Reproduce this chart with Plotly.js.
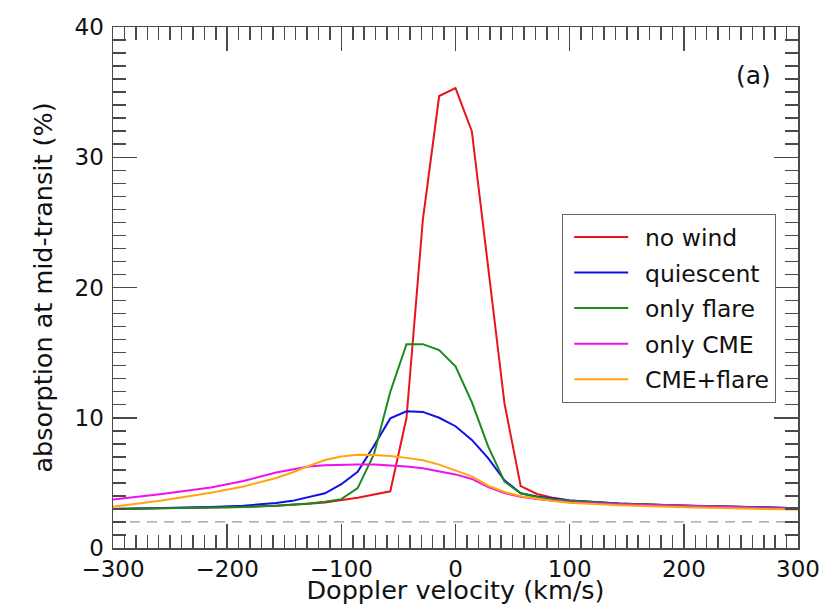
<!DOCTYPE html>
<html>
<head>
<meta charset="utf-8">
<script src="https://cdn.plot.ly/plotly-3.0.1.min.js"></script>
<style>html,body{margin:0;padding:0;background:#fff;}#chart{width:831px;height:605px;}</style>
</head>
<body>
<div id="chart"></div>
<script>
// Doppler velocity grid (km/s)
const velocity = [-300, -257.1, -214.3, -185.7, -157.1, -142.9, -128.6, -114.3, -100, -85.7, -71.4, -57.1, -42.9, -28.6, -14.3, 0, 14.3, 28.6, 42.9, 57.1, 71.4, 85.7, 100, 142.9, 200, 257.1, 300];

// absorption at mid-transit (%)
const noWind     = [3.0, 3.05, 3.1, 3.15, 3.25, 3.3, 3.4, 3.5, 3.65, 3.85, 4.1, 4.35, 10.0, 25.2, 34.7, 35.3, 32.0, 21.5, 11.1, 4.75, 4.15, 3.85, 3.65, 3.42, 3.25, 3.15, 3.05];
const quiescent  = [3.0, 3.05, 3.15, 3.25, 3.45, 3.62, 3.9, 4.2, 4.9, 5.85, 7.85, 9.95, 10.5, 10.45, 10.0, 9.35, 8.3, 6.9, 5.2, 4.2, 3.95, 3.78, 3.65, 3.42, 3.25, 3.15, 3.05];
const onlyFlare  = [3.0, 3.05, 3.1, 3.15, 3.25, 3.32, 3.42, 3.55, 3.75, 4.6, 7.2, 12.0, 15.65, 15.65, 15.2, 13.95, 11.2, 7.8, 5.1, 4.2, 3.92, 3.75, 3.62, 3.4, 3.25, 3.12, 3.03];
const onlyCME    = [3.72, 4.15, 4.65, 5.15, 5.8, 6.05, 6.25, 6.35, 6.4, 6.42, 6.42, 6.35, 6.26, 6.12, 5.9, 5.65, 5.3, 4.68, 4.22, 3.93, 3.76, 3.62, 3.52, 3.35, 3.2, 3.1, 3.0];
const cmeFlare   = [3.17, 3.65, 4.25, 4.72, 5.38, 5.8, 6.3, 6.75, 7.02, 7.15, 7.14, 7.06, 6.92, 6.73, 6.4, 5.95, 5.5, 4.78, 4.3, 3.98, 3.78, 3.6, 3.48, 3.28, 3.12, 3.02, 2.95];

// dashed reference level
const refVelocity = [-300, 300];
const refLevel = [2, 2];

const seriesNames = ['no wind', 'quiescent', 'only flare', 'only CME', 'CME+flare'];
const seriesData = [noWind, quiescent, onlyFlare, onlyCME, cmeFlare];
const seriesColors = ['#e8141c', '#1010e6', '#1a8a1a', '#f010f0', '#ffa510'];

const traces = [{
  x: refVelocity, y: refLevel, mode: 'lines', showlegend: false, hoverinfo: 'skip',
  line: {color: '#999', width: 1.2, dash: '10px,7px'}
}];
seriesNames.forEach((n, i) => {
  traces.push({
    x: velocity, y: seriesData[i], name: '\u2002' + n, mode: 'lines', legendgroup: 'g' + i,
    line: {color: seriesColors[i], width: 2}
  });
});

const tickFont = {family: 'DejaVu Sans, sans-serif', size: 23, color: '#111'};
const axisCommon = {
  showgrid: false, zeroline: false, showline: true, linecolor: '#4a4a4a', linewidth: 1.5,
  mirror: 'allticks', ticks: 'inside', ticklen: 24, tickwidth: 1.5, tickcolor: '#4a4a4a',
  tickfont: tickFont
};

const layout = {
  width: 831, height: 605,
  margin: {l: 113, r: 33, t: 27, b: 57},
  paper_bgcolor: '#fff', plot_bgcolor: '#fff',
  font: {family: 'DejaVu Sans, sans-serif', color: '#111'},
  xaxis: Object.assign({}, axisCommon, {
    range: [-300, 300], dtick: 100, tick0: 0,
    minor: {dtick: 10, ticks: 'inside', ticklen: 13, tickwidth: 1.5, tickcolor: '#4a4a4a'},
    title: {text: 'Doppler velocity (km/s)', font: {size: 25.5, color: '#111'}, standoff: 6},
    automargin: 'left+right'
  }),
  yaxis: Object.assign({}, axisCommon, {
    range: [0, 40], dtick: 10, tick0: 0,
    minor: {dtick: 1, ticks: 'inside', ticklen: 13, tickwidth: 1.5, tickcolor: '#4a4a4a'},
    title: {text: 'absorption at mid-transit (%)', font: {size: 25.5, color: '#111'}, standoff: 14},
    ticklabelstandoff: 3,
    automargin: 'top+bottom'
  }),
  legend: {
    x: 0.6555, y: 0.641, xanchor: 'left', yanchor: 'top',
    bgcolor: '#fff', bordercolor: '#666', borderwidth: 1.2,
    font: {family: 'DejaVu Sans, sans-serif', size: 23.5, color: '#111'},
    traceorder: 'grouped', tracegroupgap: 2, itemwidth: 54, indentation: 6
  },
  annotations: [{
    x: 260.6, y: 36.3, xref: 'x', yref: 'y', text: '(a)', showarrow: false,
    font: {family: 'DejaVu Sans, sans-serif', size: 25, color: '#111'}
  }],
  showlegend: true
};

Plotly.newPlot('chart', traces, layout, {displayModeBar: false, staticPlot: true});
</script>
</body>
</html>
